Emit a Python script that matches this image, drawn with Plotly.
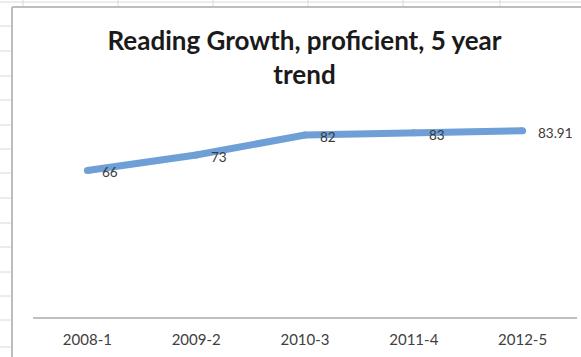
import plotly.graph_objects as go

# ---- data ----
categories = ["2008-1", "2009-2", "2010-3", "2011-4", "2012-5"]
values = [66, 73, 82, 83, 83.91]
value_labels = ["66", "73", "82", "83", "83.91"]
title_text = "Reading Growth, proficient, 5 year<br>trend"

W, H = 581, 357
ML, MR, MT, MB = 33, 4, 95, 40
PW, PH = W - ML - MR, H - MT - MB

def px(x):
    return (x - ML) / PW

def py(y):
    return (H - MB - y) / PH

LINE_COLOR = "#6E9FD6"
FONT = "Lato"

fig = go.Figure()
fig.add_trace(go.Scatter(
    x=categories, y=values, mode="lines+markers",
    line=dict(color=LINE_COLOR, width=7),
    marker=dict(color=LINE_COLOR, size=7),
    hoverinfo="skip", showlegend=False,
))

annotations = []
for c, v, t in zip(categories, values, value_labels):
    annotations.append(dict(
        x=c, y=v, xref="x", yref="y", text=t, showarrow=False,
        xanchor="left", yanchor="middle", xshift=13, yshift=-2,
        font=dict(family=FONT, size=13.5, color="#3a3a3a"),
    ))

# spreadsheet grid and chart border (decoration)
shapes = []
grid_color = "#d8d8d8"
for gy in [26, 51, 76, 100, 125, 149, 173, 198, 223, 247, 272, 296, 320, 347]:
    shapes.append(dict(type="line", xref="paper", yref="paper",
                       x0=px(0), x1=px(12), y0=py(gy), y1=py(gy),
                       line=dict(color=grid_color, width=1)))
for gx in [23, 118, 213, 308, 403, 500]:
    shapes.append(dict(type="line", xref="paper", yref="paper",
                       x0=px(gx), x1=px(gx), y0=py(0), y1=py(7),
                       line=dict(color=grid_color, width=1)))
shapes.append(dict(type="line", xref="paper", yref="paper",
                   x0=px(0), x1=px(W), y0=py(2), y1=py(2),
                   line=dict(color=grid_color, width=1)))
shapes.append(dict(type="line", xref="paper", yref="paper",
                   x0=px(12), x1=px(12), y0=py(7), y1=py(H),
                   line=dict(color="#bdbdbd", width=2)))
shapes.append(dict(type="line", xref="paper", yref="paper",
                   x0=px(12), x1=px(W), y0=py(7), y1=py(7),
                   line=dict(color="#bdbdbd", width=2)))

fig.update_layout(
    width=W, height=H,
    margin=dict(l=ML, r=MR, t=MT, b=MB, pad=0),
    paper_bgcolor="white", plot_bgcolor="white",
    title=dict(text=title_text, x=304.5 / W, xref="container", xanchor="center",
               y=1 - 50 / H, yref="container", yanchor="middle",
               font=dict(family=FONT, size=26, color="#1a1a1a", weight="bold")),
    xaxis=dict(type="category", range=[-0.5, 4.5], showgrid=False,
               showline=True, linecolor="#bfbfbf", linewidth=2,
               ticks="", tickfont=dict(family=FONT, size=15, color="#404040"),
               ticklabelstandoff=8, fixedrange=True),
    yaxis=dict(range=[0, 100], visible=False, fixedrange=True),
    annotations=annotations,
    shapes=shapes,
)

fig.write_html(
    "out.html",
    config={"displayModeBar": False},
    post_script="document.body.style.margin='0';document.body.style.padding='0';",
)
